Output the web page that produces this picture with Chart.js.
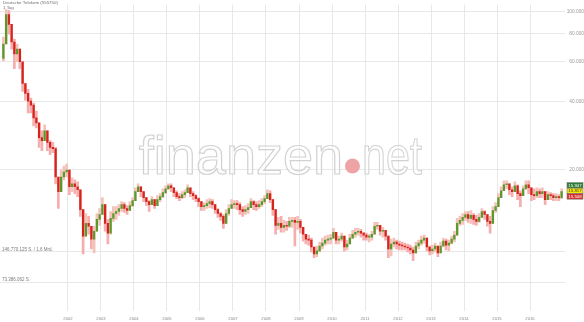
<!DOCTYPE html>
<html>
<head>
<meta charset="utf-8">
<script src="https://cdn.jsdelivr.net/npm/chart.js@4.4.1/dist/chart.umd.min.js"></script>
<style>
    html, body { margin: 0; padding: 0; background: #fff; }
    #wrap { width: 584px; height: 322px; }
</style>
</head>
<body>
<div id="wrap"><canvas id="chart" width="584" height="322"></canvas></div>
<script>
// ------------------------------------------------------------------ data
// Deutsche Telekom (555750), month candles from Jan 2000
const startYear = 2000;
const firstOpen = 62.0;

const closes = [
    71.8, 97.0, 87.7, 73.3, 64.9, 68.2, 59.9, 48.0, 43.4, 40.1, 38.5, 33.8,
    32.1, 27.6, 26.8, 29.6, 26.3, 25.0, 24.7, 18.48, 15.9, 18.48, 19.44, 19.83,
    16.72, 17.23, 16.72, 16.22, 13.25, 10.10, 11.51, 11.17, 9.80, 10.62, 11.98, 12.60,
    13.93, 11.51, 10.41, 12.10, 12.73, 12.99, 13.39, 13.93, 13.39, 13.12, 13.79, 14.52,
    15.90, 16.72, 15.90, 14.97, 14.36, 13.93, 14.67, 13.79, 14.67, 15.12, 15.74, 16.38,
    16.89, 16.55, 15.74, 15.12, 14.97, 15.42, 15.74, 16.55, 15.58, 15.27, 14.82, 14.36,
    13.66, 13.79, 14.07, 14.36, 13.93, 13.25, 12.73, 12.35, 11.51, 12.73, 13.39, 13.93,
    14.07, 13.93, 13.25, 12.99, 13.25, 13.52, 14.36, 13.93, 13.66, 13.93, 14.36, 14.82,
    15.58, 14.67, 13.25, 11.28, 11.51, 11.05, 11.28, 11.17, 11.74, 11.86, 11.62, 11.74,
    11.05, 10.30, 9.80, 9.70, 9.04, 8.43, 8.69, 9.13, 9.41, 9.70, 9.80, 9.90,
    10.51, 9.70, 9.80, 10.10, 9.04, 9.32, 9.90, 10.30, 10.51, 10.62, 10.41, 10.20,
    10.00, 10.00, 10.30, 11.17, 11.28, 10.62, 10.72, 10.10, 8.86, 9.32, 9.51, 9.32,
    9.22, 9.13, 9.04, 8.95, 8.77, 8.51, 9.13, 9.41, 9.70, 9.90, 9.04, 8.69,
    8.86, 9.13, 8.51, 9.13, 9.60, 9.22, 9.41, 9.80, 10.20, 11.51, 11.86, 12.23,
    12.60, 12.10, 12.48, 11.98, 11.74, 12.23, 12.99, 12.60, 11.74, 11.51, 13.12, 13.66,
    14.97, 16.06, 17.06, 17.23, 16.22, 15.90, 16.89, 15.58, 15.27, 16.38, 17.06, 16.55,
    15.42, 15.27, 15.90, 15.58, 15.90, 14.67, 15.42, 15.27, 14.97, 15.12, 14.97, 15.90
];

const highs = [
    77.0, 102.0, 101.0, 81.8, 75.5, 71.8, 64.9, 53.1, 47.1, 45.2, 41.3, 39.3,
    36.2, 30.5, 29.6, 31.5, 28.4, 26.8, 26.3, 25.0, 17.94, 19.83, 20.65, 21.07,
    18.48, 18.30, 17.94, 17.58, 15.12, 12.73, 12.73, 12.35, 11.17, 11.17, 12.73, 13.39,
    14.97, 13.66, 11.98, 12.99, 13.66, 13.66, 13.93, 14.36, 14.22, 13.79, 14.36, 14.97,
    16.55, 17.23, 16.72, 15.74, 14.97, 14.52, 15.12, 14.67, 15.27, 15.58, 16.38, 16.89,
    17.23, 17.23, 16.55, 16.06, 15.58, 15.90, 16.22, 17.06, 16.38, 15.90, 15.42, 14.97,
    14.36, 14.22, 14.67, 14.82, 14.67, 13.93, 13.39, 12.86, 12.60, 13.25, 13.93, 14.67,
    14.52, 14.52, 14.22, 13.66, 13.79, 14.07, 14.82, 14.52, 14.36, 14.52, 14.82, 15.27,
    16.22, 16.06, 14.22, 12.73, 12.23, 12.35, 11.86, 11.74, 12.23, 12.23, 12.23, 12.35,
    11.98, 11.05, 10.30, 10.20, 9.90, 8.95, 9.13, 9.51, 9.90, 10.10, 10.20, 10.30,
    10.94, 10.30, 10.10, 10.41, 9.90, 9.70, 10.30, 10.72, 10.94, 10.94, 10.83, 10.51,
    10.41, 10.30, 10.62, 11.62, 11.62, 11.17, 11.05, 10.72, 10.10, 9.80, 9.90, 9.70,
    9.60, 9.51, 9.41, 9.32, 9.22, 9.04, 9.51, 9.70, 10.10, 10.20, 9.80, 9.13,
    9.22, 9.41, 8.95, 9.51, 9.90, 9.80, 9.70, 10.10, 10.62, 12.10, 12.35, 12.73,
    12.99, 12.99, 13.12, 12.73, 12.48, 12.73, 13.39, 13.12, 12.60, 12.35, 13.66, 14.22,
    15.58, 16.72, 17.76, 17.76, 17.23, 16.72, 17.58, 17.06, 16.06, 16.89, 17.76, 17.76,
    16.38, 16.38, 16.55, 16.38, 16.55, 15.58, 15.90, 15.74, 15.58, 15.58, 15.42, 16.38
];

const lows = [
    60.4, 79.4, 79.4, 68.2, 55.8, 59.9, 55.8, 44.3, 40.5, 35.5, 35.5, 31.1,
    30.5, 25.0, 24.2, 26.8, 24.2, 23.2, 23.7, 17.23, 13.39, 15.90, 17.94, 18.48,
    15.42, 15.90, 15.58, 15.12, 12.35, 8.43, 10.10, 10.30, 8.86, 8.51, 10.83, 11.28,
    12.73, 10.62, 9.32, 10.30, 11.74, 11.98, 12.48, 12.99, 12.86, 12.60, 13.12, 13.66,
    14.67, 15.90, 15.12, 14.36, 13.79, 12.99, 13.93, 13.39, 14.07, 14.36, 14.97, 15.58,
    16.22, 15.90, 15.12, 14.82, 14.52, 14.82, 14.97, 15.74, 15.12, 14.67, 14.36, 13.66,
    13.12, 13.12, 13.39, 13.52, 13.39, 12.73, 12.23, 11.86, 10.94, 11.62, 12.48, 13.39,
    13.39, 13.25, 12.60, 12.35, 12.60, 12.73, 13.52, 13.25, 13.12, 13.39, 13.66, 14.07,
    14.82, 14.22, 12.48, 10.30, 10.83, 10.51, 10.51, 10.72, 11.05, 11.05, 9.13, 10.83,
    10.41, 9.60, 9.32, 9.22, 8.60, 8.10, 8.18, 8.60, 8.86, 9.22, 9.32, 9.32,
    10.00, 9.32, 9.32, 9.60, 8.69, 8.77, 9.51, 9.90, 10.00, 10.20, 10.00, 9.70,
    9.70, 9.51, 9.70, 10.72, 10.83, 10.20, 10.00, 9.70, 8.10, 8.26, 9.04, 8.86,
    8.77, 8.77, 8.77, 8.60, 8.43, 7.86, 8.77, 8.86, 9.22, 9.41, 8.69, 8.34,
    8.43, 8.60, 8.18, 8.69, 9.04, 8.77, 8.69, 9.32, 9.51, 10.83, 11.28, 11.39,
    11.86, 11.62, 11.51, 11.39, 11.28, 11.62, 12.48, 11.98, 11.17, 10.41, 12.10, 12.86,
    13.79, 15.12, 16.22, 16.38, 15.42, 15.12, 16.22, 14.67, 13.66, 15.42, 16.22, 15.58,
    14.52, 14.67, 14.97, 14.97, 14.97, 13.93, 14.67, 14.67, 14.52, 14.52, 14.52, 14.82
];

const yearTicks = [2002, 2003, 2004, 2005, 2006, 2007, 2008, 2009, 2010, 2011, 2012, 2013, 2014, 2015, 2016];
const priceTicks = [20, 40, 60, 80, 100];
const volumeTicks = [73386062, 146770125];
const volumeLabels = ['73.386.062 S.', '146.770.125 S. / 1,6 Mrd.'];
const lastQuotes = ['15.947', '15.817', '15.508'];
const lastQuoteMid = 15.817;

// ------------------------------------------------------------------ colours
const UP = '#5a9a2c';
const DOWN = '#d6241c';
const UP_WICK = '#f3c2b8';
const DOWN_WICK = '#f5adad';
const GRID = '#e8e8e8';
const FONT = '"Liberation Sans", Arial, sans-serif';

Chart.defaults.font.family = FONT;

const candles = closes.map((c, i) => {
    const o = i === 0 ? firstOpen : closes[i - 1];
    return {
        x: startYear + (i + 0.5) / 12,
        o, c,
        h: Math.max(highs[i], o, c),
        l: Math.min(lows[i], o, c)
    };
});

// ------------------------------------------------------------------ plugins
const watermark = {
    id: 'watermark',
    beforeDatasetsDraw(chart) {
        const ctx = chart.ctx;
        ctx.save();
        ctx.font = '54px ' + FONT;
        ctx.lineWidth = 1.2;
        ctx.strokeStyle = '#d2d2d2';
        ctx.fillStyle = 'rgba(255,255,255,0.5)';
        ctx.textBaseline = 'alphabetic';

        ctx.textAlign = 'right';
        ctx.fillText('finanzen', 343, 174);
        ctx.strokeText('finanzen', 343, 174);

        ctx.save();
        ctx.translate(362, 174);
        ctx.scale(0.8, 1);
        ctx.textAlign = 'left';
        ctx.fillText('net', 0, 0);
        ctx.strokeText('net', 0, 0);
        ctx.restore();

        ctx.beginPath();
        ctx.arc(352.5, 166, 7.5, 0, Math.PI * 2);
        ctx.fillStyle = '#eea4a4';
        ctx.fill();

        // title
        ctx.fillStyle = '#6f6f6f';
        ctx.font = '4.4px ' + FONT;
        ctx.textAlign = 'left';
        ctx.textBaseline = 'middle';
        ctx.fillText('Deutsche Telekom (555750)', 3, 3);
        ctx.fillText('1 Tag', 3, 7.5);
        ctx.restore();
    }
};

const quoteBoxes = {
    id: 'quoteBoxes',
    afterDraw(chart) {
        const ctx = chart.ctx;
        const mid = chart.scales.y.getPixelForValue(lastQuoteMid) - 1.3;
        const styles = [
            { bg: '#2e7d34', fg: '#ffffff' },
            { bg: '#f7e600', fg: '#333333' },
            { bg: '#d7302a', fg: '#ffffff' }
        ];
        const h = 5.5, w = 16, x = 567;
        ctx.save();
        ctx.font = '4.4px ' + FONT;
        ctx.textAlign = 'center';
        ctx.textBaseline = 'middle';
        lastQuotes.forEach((q, i) => {
            const top = mid - h / 2 + (i - 1) * h;
            ctx.fillStyle = styles[i].bg;
            ctx.fillRect(x, top, w, h);
            ctx.strokeStyle = '#777';
            ctx.lineWidth = 0.6;
            ctx.strokeRect(x, top, w, h);
            ctx.fillStyle = styles[i].fg;
            ctx.fillText(q, x + w / 2, top + h / 2 + 0.2);
        });
        ctx.restore();
    }
};

// ------------------------------------------------------------------ chart
new Chart(document.getElementById('chart'), {
    type: 'bar',
    data: {
        datasets: [
            {
                label: 'Body',
                data: candles.map(k => ({ x: k.x, y: [k.o, k.c] })),
                backgroundColor: candles.map(k => k.c >= k.o ? UP : DOWN),
                barThickness: 1.6,
                minBarLength: 1,
                grouped: false,
                order: 1,
                yAxisID: 'y'
            },
            {
                label: 'Wick',
                data: candles.map(k => ({ x: k.x, y: [k.l, k.h] })),
                backgroundColor: candles.map(k => k.c >= k.o ? UP_WICK : DOWN_WICK),
                barThickness: 2,
                grouped: false,
                order: 2,
                yAxisID: 'y'
            }
        ]
    },
    options: {
        responsive: false,
        animation: false,
        devicePixelRatio: 1,
        layout: { padding: 0, autoPadding: false },
        plugins: {
            legend: { display: false },
            tooltip: { enabled: false }
        },
        scales: {
            x: {
                type: 'linear',
                offset: false,
                min: 1999.9394,
                max: 2017.0606,
                afterBuildTicks: s => { s.ticks = yearTicks.map(v => ({ value: v })); },
                afterFit: s => { s.height = 11; },
                grid: { color: GRID, drawTicks: false, offset: false },
                border: { display: false },
                ticks: {
                    color: '#8a8a8a',
                    font: { size: 4.2 },
                    padding: 5,
                    maxRotation: 0,
                    autoSkip: false,
                    callback: v => String(v)
                }
            },
            y: {
                type: 'logarithmic',
                position: 'right',
                min: 4.7028,
                max: 107.29,
                afterBuildTicks: s => { s.ticks = priceTicks.map(v => ({ value: v })); },
                afterFit: s => { s.width = 19; },
                grid: { color: GRID, drawTicks: false },
                border: { display: false },
                ticks: {
                    color: '#9a9a9a',
                    font: { size: 4.8 },
                    padding: 1,
                    crossAlign: 'far',
                    callback: v => Number(v).toFixed(3)
                }
            },
            vol: {
                type: 'linear',
                position: 'left',
                display: true,
                min: 4.02e6,
                max: 740.2e6,
                afterBuildTicks: s => { s.ticks = volumeTicks.map(v => ({ value: v })); },
                afterFit: s => { s.width = 0; },
                grid: { color: GRID, drawTicks: false },
                border: { display: false },
                ticks: {
                    mirror: true,
                    padding: 2,
                    labelOffset: -2,
                    color: '#7a7a7a',
                    font: { size: 4.5 },
                    callback: (v, i) => volumeLabels[i]
                }
            }
        }
    },
    plugins: [watermark, quoteBoxes]
});
</script>
</body>
</html>
